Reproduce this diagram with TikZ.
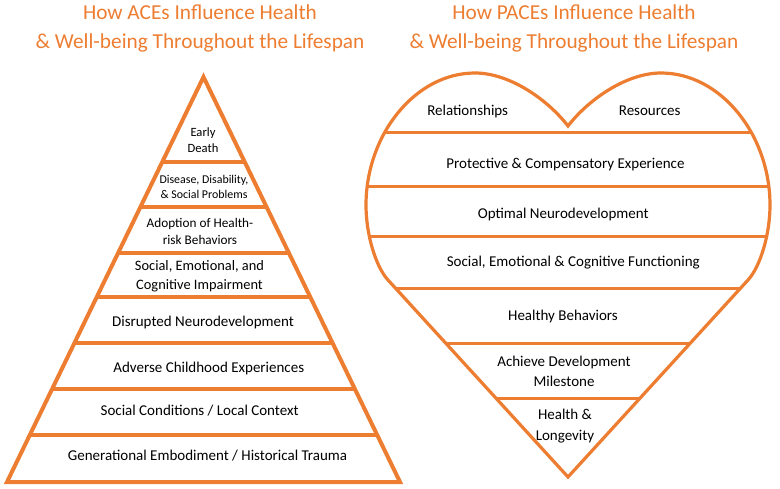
\documentclass[tikz,border=0pt]{standalone}
\usepackage{fontspec}
\setmainfont{Carlito}
\definecolor{acorange}{HTML}{ED7D31}
\begin{document}
\begin{tikzpicture}[x=1pt,y=-1pt,
  outline/.style={draw=acorange,line width=4pt,line join=miter,miter limit=20},
  houtline/.style={draw=acorange,line width=3.2pt,line join=miter,miter limit=20},
  band/.style={draw=acorange,line width=3.3pt},
  hband/.style={draw=acorange,line width=3pt},
  lbl/.style={align=center,inner sep=0pt,text=black},
  fsA/.style={font=\fontsize{15}{19}\selectfont},
  ttl/.style={font=\fontsize{21.3}{29}\selectfont,align=center,inner sep=0pt,text=acorange}]
\useasboundingbox (0,0) rectangle (780,488);

% ---------- Pyramid ----------
\begin{scope}
  \clip (203.5,77) -- (400,482) -- (7,482) -- cycle;
  \foreach \yy in {162,207,253,297,343,389,435}
    \draw[band] (0,\yy) -- (410,\yy);
\end{scope}
\draw[outline] (203.5,77) -- (400,482) -- (7,482) -- cycle;

% ---------- Heart ----------
\begin{scope}
  \clip (568,477) -- (388,280) .. controls (376,267) and (366,235) .. (366,205)
    .. controls (366,135) and (415,73) .. (475,73)
    .. controls (510,73) and (548,100) .. (568,126)
    .. controls (588,100) and (626,73) .. (661,73)
    .. controls (721,73) and (770,135) .. (770,205)
    .. controls (770,235) and (760,267) .. (748,280) -- cycle;
  \foreach \yy in {132,186,236,288,343,398}
    \draw[hband] (360,\yy) -- (780,\yy);
\end{scope}
\draw[houtline] (568,477) -- (388,280) .. controls (376,267) and (366,235) .. (366,205)
    .. controls (366,135) and (415,73) .. (475,73)
    .. controls (510,73) and (548,100) .. (568,126)
    .. controls (588,100) and (626,73) .. (661,73)
    .. controls (721,73) and (770,135) .. (770,205)
    .. controls (770,235) and (760,267) .. (748,280) -- cycle;

% ---------- Titles ----------
\node[ttl] (t1) at (200,28.5) {How ACEs Influence Health\\\& Well-being Throughout the Lifespan};
\node[ttl] (t2) at (574,28.5) {How PACEs Influence Health\\\& Well-being Throughout the Lifespan};

% ---------- Pyramid labels ----------
\node[lbl,font=\fontsize{12.6}{16}\selectfont] (p1) at (203,139.7) {Early\\Death};
\node[lbl,font=\fontsize{11.9}{15.7}\selectfont] (p2) at (204,187) {Disease, Disability,\\\& Social Problems};
\node[lbl,font=\fontsize{13.25}{17.3}\selectfont] (p3) at (200,231.3) {Adoption of Health-\\risk Behaviors};
\node[lbl,font=\fontsize{14.4}{19.3}\selectfont] (p4) at (199.5,276.3) {Social, Emotional, and\\Cognitive Impairment};
\node[lbl,fsA] (p5) at (203,322.3) {Disrupted Neurodevelopment};
\node[lbl,fsA] (p6) at (208.8,368.3) {Adverse Childhood Experiences};
\node[lbl,fsA] (p7) at (199.7,410.7) {Social Conditions / Local Context};
\node[lbl,fsA] (p8) at (207.5,455.7) {Generational Embodiment / Historical Trauma};

% ---------- Heart labels ----------
\node[lbl,fsA] (h1) at (467.7,111) {Relationships};
\node[lbl,fsA] (h2) at (649.7,110.7) {Resources};
\node[lbl,fsA] (h3) at (565.5,164.3) {Protective \& Compensatory Experience};
\node[lbl,fsA] (h4) at (563.3,214) {Optimal Neurodevelopment};
\node[lbl,fsA] (h5) at (573.3,262.3) {Social, Emotional \& Cognitive Functioning};
\node[lbl,fsA] (h6) at (563,316.7) {Healthy Behaviors};
\node[lbl,font=\fontsize{15}{20}\selectfont] (h7) at (564,371.7) {Achieve Development\\Milestone};
\node[lbl,font=\fontsize{15}{20.7}\selectfont] (h8) at (565,426.3) {Health \&\\Longevity};
\end{tikzpicture}
\end{document}
